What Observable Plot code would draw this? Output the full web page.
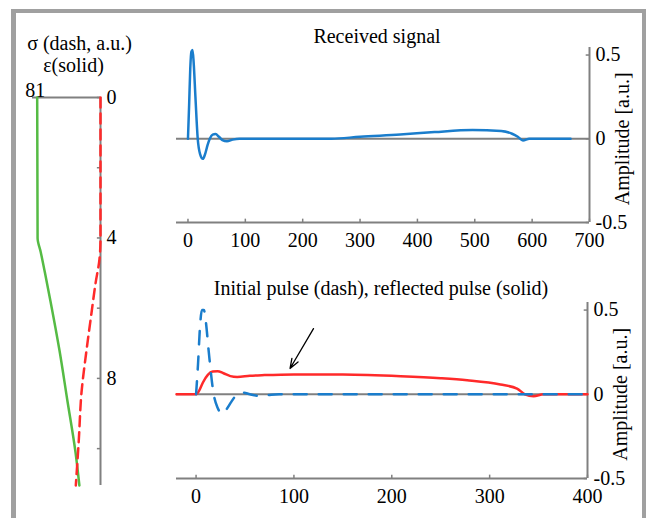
<!DOCTYPE html>
<html><head><meta charset="utf-8">
<script src="https://cdn.jsdelivr.net/npm/d3@7"></script>
<script src="https://cdn.jsdelivr.net/npm/@observablehq/plot@0.6"></script>
<style>
body{margin:0;background:#fff;}
#wrap{position:relative;width:646px;height:518px;overflow:hidden;background:#fff;font-family:"Liberation Serif","Times New Roman",serif;color:#000;}
.frame{position:absolute;left:11px;top:9px;width:635px;height:520px;box-sizing:border-box;border-left:5px solid #a0a0a0;border-top:4px solid #a0a0a0;border-right:4px solid #a0a0a0;}
.panel{position:absolute;}
.t{position:absolute;font-size:20px;line-height:20px;white-space:nowrap;text-align:center;}
</style></head><body>
<div id="wrap">
  <div class="frame"></div>
  <div id="left" class="panel" style="left:16px;top:80px"></div>
  <div id="top" class="panel" style="left:150px;top:25px"></div>
  <div id="bottom" class="panel" style="left:150px;top:285px"></div>
  <div class="t" style="left:177px;top:26px;width:400px">Received signal</div>
  <div class="t" style="left:131px;top:278px;width:500px">Initial pulse (dash), reflected pulse (solid)</div>
  <div class="t" style="left:0px;top:33px;width:159px">σ (dash, a.u.)</div>
  <div class="t" style="left:0px;top:55px;width:147px">ε(solid)</div>
</div>
<script>
// ---------- data ----------
// left panel: depth profile
const epsDepth = [0, 4, 4.4, 5, 5.8, 7.2, 8.6, 10.1, 11.05];
const epsValue = [81, 80.5, 76.5, 71, 64, 52.5, 42.6, 32, 27];
const sigDepth = [0, 4, 4.3, 4.6, 5.3, 6.2, 7.2, 8.4, 9.77, 11.05];
const sigValue = [0, 0, 0.3, 1.3, 6.4, 11.9, 17.9, 24.3, 27.8, 31.6];
const depthTicks = [0, 2, 4, 6, 8, 10];
const depthLabels = [0, 4, 8];
const epsLabel = [81];

// top panel: received signal
const recvT = [0, 2, 4, 6, 8, 10, 13, 17, 21, 26, 30, 34, 38, 43, 48, 54, 60, 68, 78, 90, 150, 250, 300, 370, 430, 496, 546, 565, 575, 584, 595, 667];
const recvA = [0, 0.2, 0.42, 0.52, 0.53, 0.45, 0.25, 0.0, -0.09, -0.12, -0.09, -0.04, 0.0, 0.025, 0.028, 0.012, -0.008, -0.015, -0.005, 0, 0, 0, 0.012, 0.025, 0.04, 0.052, 0.047, 0.03, 0.012, -0.01, 0, 0];
const topXTicks = [0, 100, 200, 300, 400, 500, 600, 700];

// bottom panel: initial and reflected pulses
const initT = [0, 2, 4, 6, 8, 10, 13, 18, 22, 26.5, 31, 36, 42, 48, 55, 62, 72, 85, 400];
const initA = [0, 0.18, 0.4, 0.5, 0.5, 0.43, 0.25, 0, -0.08, -0.115, -0.09, -0.045, 0, 0.01, 0.0, -0.008, -0.005, 0, 0];
const reflT = [-20, 0, 3, 7, 12, 17, 22, 28, 35, 42, 55, 70, 100, 150, 209, 250, 277, 311, 328, 336, 345, 355, 400];
const reflA = [0, 0, 0.02, 0.07, 0.115, 0.135, 0.137, 0.125, 0.108, 0.103, 0.11, 0.114, 0.118, 0.117, 0.107, 0.095, 0.083, 0.058, 0.034, 0.0, -0.012, 0, 0];
const bottomXTicks = [0, 100, 200, 300, 400];
const ampTicks = [-0.5, 0, 0.5];
const arrowNote = [{t1: 120, a1: 0.39, t2: 96, a2: 0.153}];

// ---------- build ----------
const gray = "#808080";
const blue = "#1a7dcc";
const red = "#ff2a2a";
const green = "#55bb44";
const style = {fontFamily: "'Liberation Serif','Times New Roman',serif", fontSize: "20px", color: "#000", background: "transparent", overflow: "visible"};
const fmt = d => String(d);
const zip2 = (xs, ys, kx, ky) => xs.map((x, i) => ({[kx]: x, [ky]: ys[i]}));

const eps = zip2(epsDepth, epsValue, "d", "v");
const sig = zip2(sigDepth, sigValue, "d", "v");
const recv = zip2(recvT, recvA, "t", "a");
const init = zip2(initT, initA, "t", "a");
const refl = zip2(reflT, reflA, "t", "a");

// left profile
const left = Plot.plot({
  width: 130, height: 420, marginLeft: 16, marginRight: 46, marginTop: 17, marginBottom: 15,
  x: {domain: [87, 0], axis: null},
  y: {domain: [0, 11.05], reverse: true, axis: null},
  style,
  marks: [
    Plot.ruleY([0], {stroke: gray, strokeWidth: 2}),
    Plot.ruleX([0], {stroke: gray, strokeWidth: 2}),
    Plot.ruleY(depthTicks, {y: d => d, x1: 0, x2: 4, stroke: gray, strokeWidth: 1.5}),
    Plot.text(depthLabels, {x: 0, y: d => d, text: fmt, textAnchor: "start", dx: 6, fontSize: 20}),
    Plot.text(epsLabel, {x: d => d, y: 0, text: fmt, lineAnchor: "bottom", dx: -2, dy: -1, fontSize: 20}),
    Plot.line(eps, {x: "v", y: "d", stroke: green, strokeWidth: 2.5, curve: "monotone-y"}),
    Plot.line(sig, {x: "v", y: "d", stroke: red, strokeWidth: 2.5, strokeDasharray: "10,6", curve: "monotone-y"})
  ]
});
document.getElementById("left").appendChild(left);

function panel(opts) {
  const {xDomain, xTicks, xMax, height, marginTop, marginBottom, marks} = opts;
  return Plot.plot({
    width: 490, height, marginLeft: 26, marginRight: opts.marginRight, marginTop, marginBottom,
    x: {domain: xDomain},
    y: {domain: [-0.5, 0.545]},
    style,
    marks: [
      Plot.ruleY([0], {stroke: gray, strokeWidth: 2}),
      Plot.ruleY([-0.5], {stroke: gray, strokeWidth: 2}),
      Plot.ruleX([xMax], {stroke: gray, strokeWidth: 2}),
      Plot.ruleX(xTicks, {x: d => d, y1: -0.5, y2: -0.48, stroke: gray, strokeWidth: 1.5}),
      Plot.ruleY(ampTicks, {y: d => d, x1: xMax, x2: xMax - (xDomain[1] - xDomain[0]) * 0.008, stroke: gray, strokeWidth: 1.5}),
      Plot.axisX(xTicks, {anchor: "bottom", tickSize: 0, tickPadding: 10, label: null, tickFormat: fmt, fontSize: 20}),
      Plot.axisY(ampTicks, {anchor: "right", tickSize: 0, tickPadding: 6, label: null, tickFormat: fmt, fontSize: 20}),
      Plot.text(["Amplitude [a.u.]"], {x: xMax, y: 0, text: d => d, rotate: -90, dx: 33, fontSize: 20}),
      ...marks
    ]
  });
}

const topP = panel({
  xDomain: [-20, 700], xTicks: topXTicks, xMax: 700, height: 240, marginTop: 22, marginBottom: 43, marginRight: 51,
  marks: [
    Plot.line(recv, {x: "t", y: "a", stroke: blue, strokeWidth: 2.5, curve: "monotone-x"})
  ]
});
document.getElementById("top").appendChild(topP);

const botP = panel({
  xDomain: [-20, 400], xTicks: bottomXTicks, xMax: 400, height: 233, marginTop: 17, marginBottom: 40, marginRight: 53,
  marks: [
    Plot.line(refl, {x: "t", y: "a", stroke: red, strokeWidth: 2.5, curve: "monotone-x"}),
    Plot.line(init, {x: "t", y: "a", stroke: blue, strokeWidth: 2.5, strokeDasharray: "13,12", curve: "monotone-x"}),
    Plot.arrow(arrowNote, {x1: "t1", y1: "a1", x2: "t2", y2: "a2", stroke: "#000", strokeWidth: 1.3, headLength: 12, headAngle: 40})
  ]
});
document.getElementById("bottom").appendChild(botP);
</script>
</body></html>
